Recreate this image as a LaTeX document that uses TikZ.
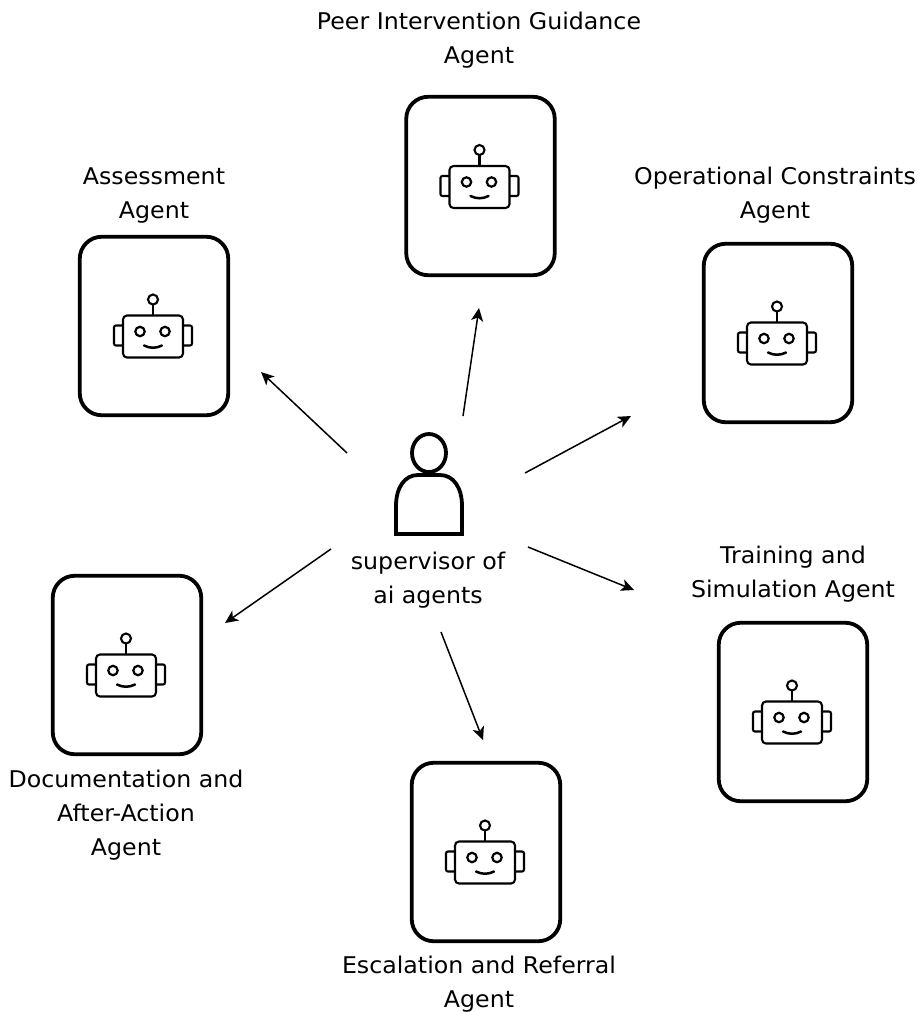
\documentclass[tikz,border=0pt]{standalone}
\usepackage{fontspec}
\setmainfont[FakeStretch=1.03]{DejaVu Sans}
\usetikzlibrary{arrows.meta}
\tikzset{
  card/.style={draw,line width=3.8pt,rounded corners=22pt,minimum width=148.5pt,minimum height=178.5pt},
  agentlabel/.style={align=center,font=\fontsize{23}{34}\selectfont,inner sep=0pt},
  link/.style={->,line width=1.5pt,>={Stealth[length=13pt,width=12pt,inset=3.5pt]}},
  pics/robot/.style={code={
    \draw[line width=2.1pt,rounded corners=4pt] (-31,-20) rectangle (29,22);
    \draw[line width=2.1pt,rounded corners=2pt] (-31,-10) -- (-40,-10) -- (-40,10) -- (-31,10);
    \draw[line width=2.1pt,rounded corners=2pt] (29,-10) -- (38,-10) -- (38,10) -- (29,10);
    \draw[line width=2.1pt] (-1,-20) -- (-1,-31);
    \draw[line width=2.1pt] (-1,-36) circle (5);
    \draw[line width=2.2pt] (-14,-4) circle (4.7);
    \draw[line width=2.2pt] (11,-4) circle (4.7);
    \draw[line width=2.5pt,line cap=round] (-10,10) .. controls (-4,13) and (2,13) .. (8,10);
  }}
}
\begin{document}
\begin{tikzpicture}[x=1pt,y=-1pt]
  \useasboundingbox (0,0) rectangle (921,1012);

  \node[card] (assessment) at (154,326) {};
  \node[card] (peer) at (480.5,186) {};
  \node[card] (constraints) at (778,333) {};
  \node[card] (training) at (793,712) {};
  \node[card] (escalation) at (486,852) {};
  \node[card] (documentation) at (127,665) {};

  \pic at ([yshift=-9.5pt]assessment) {robot};
  \pic at (peer) {robot};
  \pic at ([yshift=-9.5pt]constraints) {robot};
  \pic at ([yshift=-9.5pt]training) {robot};
  \pic at ([yshift=-9.5pt]escalation) {robot};
  \pic at ([yshift=-9.5pt]documentation) {robot};

  \node[agentlabel] (assessment label) at (154,196) {Assessment\\Agent};
  \node[agentlabel] (peer label) at (479,40) {Peer Intervention Guidance\\Agent};
  \node[agentlabel] (constraints label) at (775,195) {Operational Constraints\\Agent};
  \node[agentlabel] (training label) at (793,574) {Training and\\Simulation Agent};
  \node[agentlabel] (escalation label) at (479,984) {Escalation and Referral\\Agent};
  \node[agentlabel] (documentation label) at (126,815) {Documentation and\\After-Action\\Agent};
  \node[agentlabel] (user label) at (428,580) {supervisor of\\ai agents};

  % person
  \draw[line width=3.8pt] (429,453) ellipse (17 and 19);
  \draw[line width=3.8pt] (396,534) -- (396,506) .. controls (396,487) and (405,475) .. (418,475)
    -- (440,475) .. controls (453,475) and (462,487) .. (462,506) -- (462,534) -- cycle;

  \coordinate (from assessment) at (347,453);
  \coordinate (to assessment) at (261,372);
  \coordinate (from peer) at (463,416);
  \coordinate (to peer) at (479,308);
  \coordinate (from constraints) at (525,473);
  \coordinate (to constraints) at (631,416);
  \coordinate (from training) at (528,547);
  \coordinate (to training) at (634,590);
  \coordinate (from escalation) at (441,632);
  \coordinate (to escalation) at (483,740);
  \coordinate (from documentation) at (331,549);
  \coordinate (to documentation) at (225,623);

  \draw [link] (from assessment) to (to assessment);
  \draw [link] (from peer) to (to peer);
  \draw [link] (from constraints) to (to constraints);
  \draw [link] (from training) to (to training);
  \draw [link] (from escalation) to (to escalation);
  \draw [link] (from documentation) to (to documentation);
\end{tikzpicture}
\end{document}
